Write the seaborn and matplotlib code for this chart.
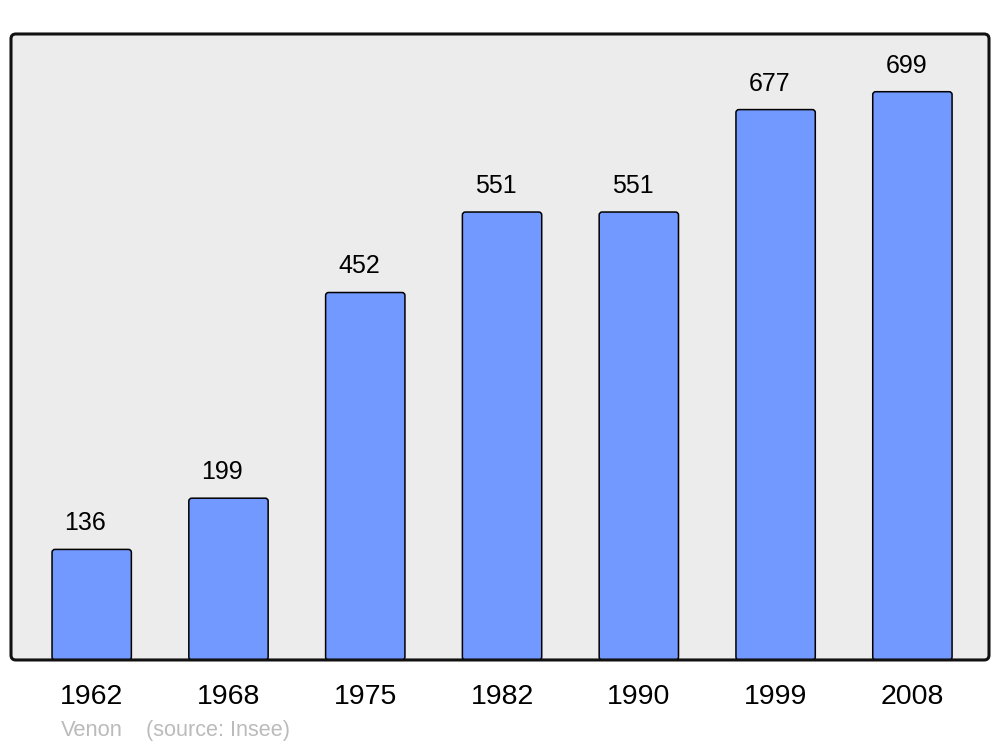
import seaborn as sns
import matplotlib.pyplot as plt
import pandas as pd
from matplotlib.patches import FancyBboxPatch

# Population data
years = ["1962", "1968", "1975", "1982", "1990", "1999", "2008"]
population = [136, 199, 452, 551, 551, 677, 699]

df = pd.DataFrame({"year": years, "pop": population})

sns.set_theme(style="white")
plt.rcParams['font.family'] = ['Liberation Sans', 'DejaVu Sans']

fig = plt.figure(figsize=(10, 7.47), dpi=100)
ax = fig.add_axes([0.011, 0.1165, 0.978, 0.838])
ax.set_facecolor("none")

sns.barplot(data=df, x="year", y="pop", color="#7299ff", saturation=1,
            width=0.58, edgecolor="black", linewidth=1.1, ax=ax)

ax.set_xlim(-0.59, 6.56)
ax.set_ylim(0, 770)

# swap the plain rectangles for slightly rounded ones
px_x = 978 / (6.56 + 0.59)
px_y = 626 / 770
for p in list(ax.patches):
    r = FancyBboxPatch((p.get_x(), p.get_y()), p.get_width(), p.get_height(),
                       boxstyle="round,pad=0,rounding_size=%f" % (3 / px_x),
                       mutation_aspect=px_x / px_y,
                       facecolor=p.get_facecolor(), edgecolor="black",
                       linewidth=1.1, zorder=2)
    p.remove()
    ax.add_patch(r)

# Value labels above bars
for i, v in enumerate(population):
    ax.annotate(str(v), (i, v), xytext=(-4.5, 13.7), textcoords="offset points",
                ha="center", va="baseline", fontsize=18, color="black")

ax.set_yticks([])
ax.set_xlabel("")
ax.set_ylabel("")
ax.tick_params(axis="x", length=0, pad=17, labelsize=20.5, labelcolor="black")

for s in ax.spines.values():
    s.set_visible(False)

# rounded frame with grey background
bg = FancyBboxPatch((0, 0), 1, 1, boxstyle="round,pad=0,rounding_size=0.005",
                    mutation_aspect=978 / 626, transform=ax.transAxes,
                    facecolor="#ececec", edgecolor="none", zorder=0)
ax.add_patch(bg)
frame = FancyBboxPatch((0, 0), 1, 1, boxstyle="round,pad=0,rounding_size=0.005",
                       mutation_aspect=978 / 626, transform=ax.transAxes,
                       facecolor="none", edgecolor="#111111", linewidth=2.2,
                       clip_on=False, zorder=5)
ax.add_patch(frame)

fig.text(0.061, 0.0225, "Venon", fontsize=15.8, color="#bbbbbb", va="center")
fig.text(0.146, 0.0225, "(source: Insee)", fontsize=15.6, color="#bbbbbb", va="center")

fig.savefig("out.png", dpi=100)
